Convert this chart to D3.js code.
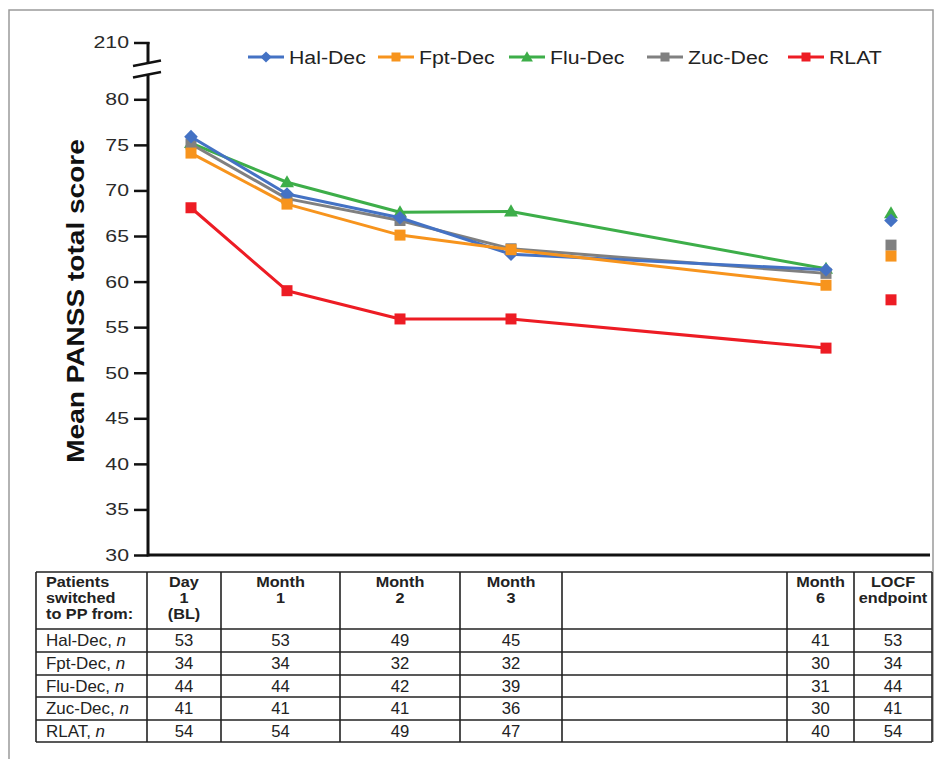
<!DOCTYPE html>
<html><head><meta charset="utf-8">
<script src="https://cdn.jsdelivr.net/npm/d3@7"></script>
<style>body{margin:0;background:#fff}svg{display:block;font-family:"Liberation Sans",Arial,sans-serif}</style>
</head><body><svg id="c" width="946" height="759"></svg>
<script>
// ---- data ----
const timepoints = ["Day 1", "Month 1", "Month 2", "Month 3", "Month 6", "LOCF"];
const seriesNames = ["Hal-Dec", "Fpt-Dec", "Flu-Dec", "Zuc-Dec", "RLAT"];
const halDec = [75.9, 69.6, 67.0, 63.0, 61.3, 66.7];
const fptDec = [74.1, 68.5, 65.1, 63.5, 59.6, 62.8];
const fluDec = [75.2, 70.9, 67.6, 67.7, 61.4, 67.5];
const zucDec = [75.1, 69.1, 66.7, 63.6, 60.9, 64.0];
const rlat   = [68.1, 59.0, 55.9, 55.9, 52.7, 58.0];
const yTicks = [30, 35, 40, 45, 50, 55, 60, 65, 70, 75, 80];
const yBreakTick = 210;
const headerLabels = [["Patients","switched","to PP from:"],["Day","1","(BL)"],["Month","1"],["Month","2"],["Month","3"],[],["Month","6"],["LOCF","endpoint"]];
const nHal = [53, 53, 49, 45, 41, 53];
const nFpt = [34, 34, 32, 32, 30, 34];
const nFlu = [44, 44, 42, 39, 31, 44];
const nZuc = [41, 41, 41, 36, 30, 41];
const nRlat = [54, 54, 49, 47, 40, 54];

// ---- layout / style ----
const colors = {"Hal-Dec":"#4472C4","Fpt-Dec":"#F7941D","Flu-Dec":"#3DAE49","Zuc-Dec":"#808080","RLAT":"#ED1C24"};
const shapes = {"Hal-Dec":"diamond","Fpt-Dec":"square","Flu-Dec":"triangle","Zuc-Dec":"square","RLAT":"square"};
const values = {"Hal-Dec":halDec,"Fpt-Dec":fptDec,"Flu-Dec":fluDec,"Zuc-Dec":zucDec,"RLAT":rlat};
const counts = {"Hal-Dec":nHal,"Fpt-Dec":nFpt,"Flu-Dec":nFlu,"Zuc-Dec":nZuc,"RLAT":nRlat};
const drawOrder = ["Flu-Dec","Zuc-Dec","Hal-Dec","Fpt-Dec","RLAT"];

const svg = d3.select("#c");
const axisX = 148, xAxisEnd = 930;
const y = d3.scaleLinear().domain([30, 80]).range([555, 99.3]);
const yTop = 43;
const x = d3.scaleOrdinal().domain(timepoints).range([191, 287, 400, 511, 826, 891]);
const tickScaleX = 1.25;

// helper: horizontally widened text anchored at (px,py)
function wideText(parent, px, py, s, anchor, size, weight) {
  const gg = parent.append("g").attr("transform", `translate(${px},${py})`);
  return gg.append("text").attr("transform", `scale(${s},1)`).attr("text-anchor", anchor)
    .attr("font-size", size).attr("font-weight", weight || "normal").attr("fill", "#222");
}

// frame
svg.append("path").attr("d","M9,759V10H933V742").attr("fill","none").attr("stroke","#9a9a9a").attr("stroke-width",1.5);

// y axis ticks via d3 axis
const ax = svg.append("g").attr("transform",`translate(${axisX},0)`)
  .call(d3.axisLeft(y).tickValues(yTicks).tickSize(14).tickSizeOuter(0).tickPadding(5));
ax.select(".domain").remove();
ax.selectAll(".tick line").attr("stroke","#111").attr("stroke-width",2.5);
ax.selectAll(".tick text").attr("font-size",17).attr("fill","#2a2a2a").attr("font-family","Liberation Sans, Arial, sans-serif")
  .attr("x", -19 / tickScaleX).attr("transform", `scale(${tickScaleX},1)`);

// manual axis line with break
const g = svg.append("g").attr("stroke","#111").attr("fill","none");
g.append("line").attr("x1",axisX).attr("x2",axisX).attr("y1",y(30)+1.5).attr("y2",75).attr("stroke-width",3);
g.append("line").attr("x1",axisX).attr("x2",axisX).attr("y1",63).attr("y2",yTop-1).attr("stroke-width",3);
g.append("line").attr("x1",axisX-14).attr("x2",axisX+1.5).attr("y1",yTop).attr("y2",yTop).attr("stroke-width",2.5);
g.append("line").attr("x1",133).attr("y1",66).attr("x2",161).attr("y2",60.5).attr("stroke-width",2.5);
g.append("line").attr("x1",133).attr("y1",77.5).attr("x2",161).attr("y2",72).attr("stroke-width",2.5);
wideText(svg, axisX-19, yTop, tickScaleX, "end", 17).attr("dy","0.32em").attr("fill","#2a2a2a").text(yBreakTick);
// x axis line
g.append("line").attr("x1",axisX).attr("x2",xAxisEnd).attr("y1",y(30)).attr("y2",y(30)).attr("stroke-width",3);

// y title
svg.append("text").attr("transform","translate(83.5,301) rotate(-90) scale(1.22,1)").attr("text-anchor","middle")
  .attr("font-size",23).attr("font-weight","bold").attr("fill","#111").text("Mean PANSS total score");

function marker(sel, shape, color, s) {
  if (shape === "diamond") {
    sel.append("path").attr("d", `M0,${-s*0.62}L${s*0.62},0L0,${s*0.62}L${-s*0.62},0Z`).attr("fill", color);
  } else if (shape === "square") {
    sel.append("rect").attr("x",-s/2).attr("y",-s/2).attr("width",s).attr("height",s).attr("fill",color);
  } else {
    sel.append("path").attr("d", d3.symbol(d3.symbolTriangle, s*s*0.5)()).attr("transform","translate(0,1)").attr("fill", color);
  }
}

// series
const lineGen = d3.line().x(d => x(d.t)).y(d => y(d.v));
drawOrder.forEach(name => {
  const pts = timepoints.map((t,i) => ({t, v: values[name][i]}));
  const connected = pts.slice(0, 5);
  svg.append("path").datum(connected).attr("d", lineGen).attr("fill","none")
    .attr("stroke", colors[name]).attr("stroke-width",3).attr("stroke-linejoin","round");
  pts.forEach(p => {
    const m = svg.append("g").attr("transform",`translate(${x(p.t)},${y(p.v)})`);
    marker(m, shapes[name], colors[name], shapes[name]==="triangle" ? 13 : 11);
  });
});

// legend
const legendX = {"Hal-Dec":248,"Fpt-Dec":378,"Flu-Dec":509,"Zuc-Dec":647,"RLAT":788};
seriesNames.forEach(name => {
  const lx = legendX[name];
  const lg = svg.append("g").attr("transform",`translate(${lx},57)`);
  lg.append("line").attr("x1",0).attr("x2",36).attr("stroke",colors[name]).attr("stroke-width",3);
  const m = lg.append("g").attr("transform","translate(18,0)");
  marker(m, shapes[name], colors[name], shapes[name]==="triangle" ? 11 : 9);
  wideText(svg, lx + 41, 57, 1.12, "start", 19).attr("dy","0.35em").text(name);
});

// table
const colEdges = [36, 147, 221, 340, 460, 562, 787, 854, 932];
const rowEdges = [572, 629, 652, 675, 697, 720, 742];
const tb = svg.append("g");
colEdges.forEach(cx => tb.append("line").attr("x1",cx).attr("x2",cx).attr("y1",rowEdges[0]).attr("y2",rowEdges[rowEdges.length-1]).attr("stroke","#222").attr("stroke-width",1.6));
rowEdges.forEach(ry => tb.append("line").attr("x1",colEdges[0]).attr("x2",colEdges[colEdges.length-1]).attr("y1",ry).attr("y2",ry).attr("stroke","#222").attr("stroke-width",1.6));
headerLabels.forEach((lines, ci) => {
  if (!lines.length) return;
  const left = ci === 0;
  const cx = left ? colEdges[0] + 10 : (colEdges[ci] + colEdges[ci+1]) / 2;
  lines.forEach((ln, li) => {
    wideText(tb, cx, rowEdges[0] + 15 + li*16, 1.16, left ? "start" : "middle", 14, "bold").text(ln);
  });
});
const valueCols = [1, 2, 3, 4, 6, 7];
seriesNames.forEach((name, ri) => {
  const base = rowEdges[ri+1] + 17;
  const t = wideText(tb, colEdges[0] + 10, base, 1.06, "start", 16);
  t.append("tspan").text(name + ", ");
  t.append("tspan").attr("font-style","italic").text("n");
  counts[name].forEach((n, i) => {
    const ci = valueCols[i];
    wideText(tb, (colEdges[ci]+colEdges[ci+1])/2, base, 1.04, "middle", 16).text(n);
  });
});
</script></body></html>
